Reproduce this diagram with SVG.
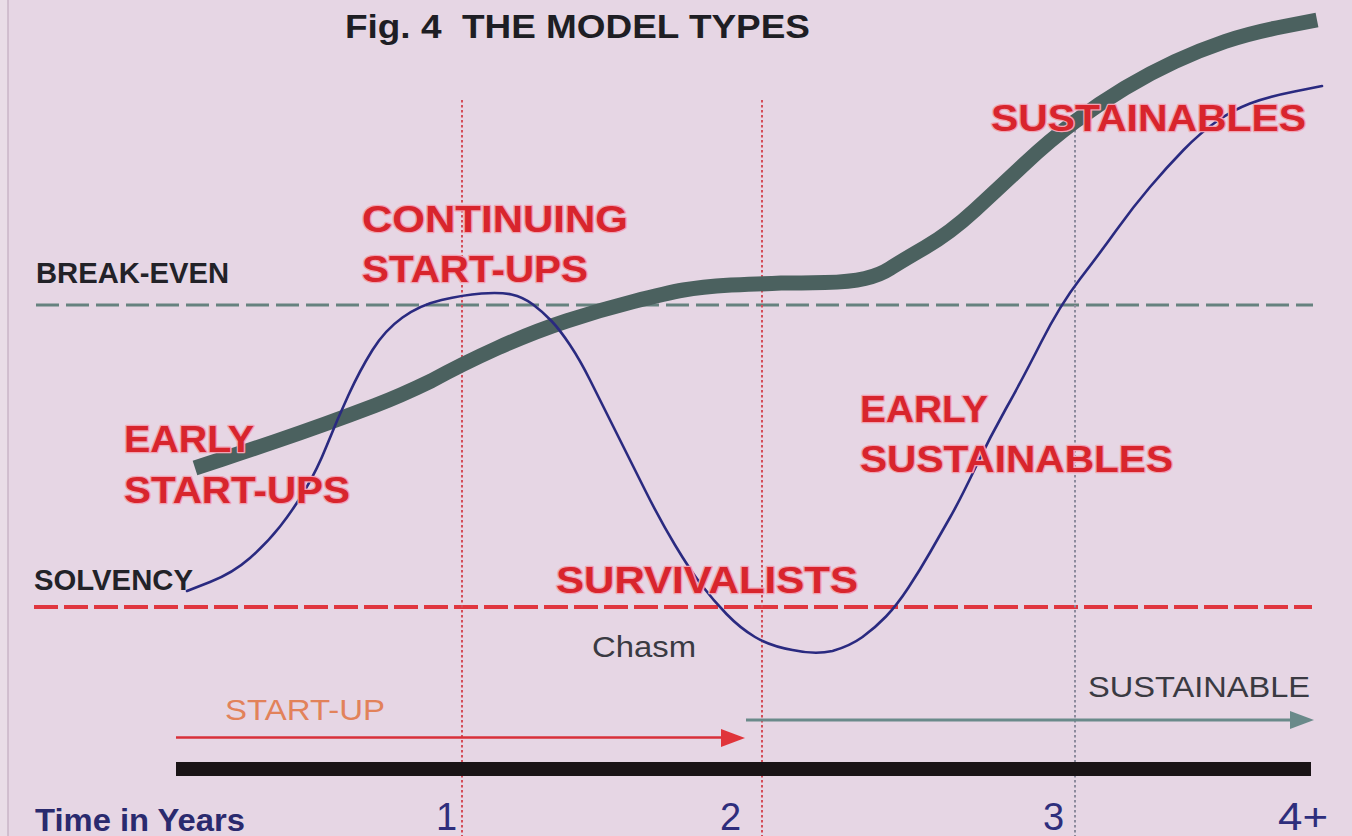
<svg xmlns="http://www.w3.org/2000/svg" width="1352" height="836" viewBox="0 0 1352 836">
  <defs>
    <style>
      .bg { fill: #e6d6e4; }
      .title { font-family: "Liberation Sans", Arial, sans-serif; font-weight: bold; font-size: 34px; fill: #1e1e24; white-space: pre; }
      .axis-label { font-family: "Liberation Sans", Arial, sans-serif; font-weight: bold; font-size: 29px; fill: #222228; }
      .model { font-family: "Liberation Sans", Arial, sans-serif; font-weight: bold; font-size: 37px; fill: #d8252d; stroke: #f0a3b4; stroke-width: 2.5px; paint-order: stroke; stroke-linejoin: round; }
      .plain { font-family: "Liberation Sans", Arial, sans-serif; font-size: 30px; fill: #3a3a42; }
      .phase-start { font-family: "Liberation Sans", Arial, sans-serif; font-size: 30px; fill: #e2825a; }
      .years { font-family: "Liberation Sans", Arial, sans-serif; font-size: 38px; fill: #2e2e7c; }
      .years-title { font-family: "Liberation Sans", Arial, sans-serif; font-weight: bold; font-size: 32px; fill: #2a2a6e; }
      .year-red { stroke: #d44c58; stroke-width: 2; stroke-dasharray: 2.5 2.5; fill: none; }
      .year-grey { stroke: #8c8a9c; stroke-width: 2; stroke-dasharray: 2.5 2.5; fill: none; }
      .break-even { stroke: #66827f; stroke-width: 3; stroke-dasharray: 23 7; fill: none; }
      .solvency { stroke: #e0363f; stroke-width: 4; stroke-dasharray: 24 6; fill: none; }
      .trend { stroke: #4b615f; stroke-width: 15; fill: none; stroke-linecap: butt; }
      .cash { stroke: #2a2a80; stroke-width: 2.6; fill: none; stroke-linecap: round; }
    </style>
  </defs>

  <!-- page -->
  <rect class="bg" x="0" y="0" width="1352" height="836"/>
  <rect x="0" y="0" width="8" height="836" fill="#e9dde7"/>
  <line x1="8" y1="0" x2="8" y2="836" stroke="#c9b5c7" stroke-width="1.5"/>

  <!-- title -->
  <text id="title" class="title" xml:space="preserve" x="345" y="38" textLength="465" lengthAdjust="spacingAndGlyphs">Fig. 4  THE MODEL TYPES</text>

  <!-- reference levels and year markers -->
  <g id="grid">
    <line class="break-even" x1="36" y1="305" x2="1313" y2="305"/>
    <line class="solvency" x1="34" y1="607" x2="1312" y2="607"/>
    <line class="year-red" x1="462" y1="100" x2="462" y2="836"/>
    <line class="year-red" x1="762" y1="100" x2="762" y2="836"/>
    <line class="year-grey" x1="1075" y1="130" x2="1075" y2="836"/>
  </g>

  <g id="level-labels">
    <text class="axis-label" x="36" y="283" textLength="193" lengthAdjust="spacingAndGlyphs">BREAK-EVEN</text>
    <text class="axis-label" x="34" y="590" textLength="159" lengthAdjust="spacingAndGlyphs">SOLVENCY</text>
  </g>

  <!-- curves -->
  <g id="connectors">
    <path id="trend-curve" class="trend" d="M195,468 L222.5,459 Q250,450 275,441.5 Q300,433 325,424 Q350,415 375,405.5 Q400,396 431,381 Q462,364 497.5,348 Q533,332 566.5,321 Q600,310 633.5,301.5 Q667,293 683.5,290 Q700,287 731,285 Q762,284 781,283 Q800,283 825,282.5 Q850,282 865,278.5 Q880,275 890,268.5 Q900,262 925,247.5 Q950,233 975,210 Q1000,187 1025,163.5 Q1050,140 1075,121.5 Q1100,103 1125,88 Q1150,73 1175,61.5 Q1200,50 1225,41.5 Q1250,33 1283.5,26.5 L1317,20"/>
    <path id="cash-curve" class="cash" d="M187,591 L210,582 Q233,573 250,558 Q267,543 280,526.5 Q293,510 305,490 Q317,470 327,445 Q337,420 348.5,395 Q360,370 372.5,350 Q385,330 402.5,317.5 Q420,305 441.5,300 Q463,295 481.5,293.5 Q500,292 511.5,294.5 Q523,297 533,304.5 Q543,312 551.5,321 Q560,330 570,345 Q580,360 590,380 Q600,400 615,430 Q630,460 645,490 Q660,520 675,545 Q690,570 701.5,585 Q713,600 726.5,614 Q740,628 755,637 Q770,646 792.5,650 Q815,655 832.5,651 Q850,646 862.5,637 Q875,628 886,616.5 Q897,605 908.5,587.5 Q920,570 930,552.5 Q940,535 950,517.5 Q960,500 975,468.5 Q990,437 1006,408.5 Q1022,380 1041,342.5 Q1060,305 1080,279 Q1100,253 1116.5,230 Q1133,207 1150,187 Q1167,167 1183.5,150 Q1200,133 1216.5,121.5 Q1233,110 1250,103.5 Q1267,97 1294.5,91.5 L1322,86"/>

    <!-- phase arrows -->
    <line x1="176" y1="737.5" x2="722" y2="737.5" stroke="#d8303a" stroke-width="2.5"/>
    <polygon points="721,729 745,738 721,747" fill="#e0343a"/>
    <line x1="746" y1="720" x2="1292" y2="720" stroke="#6a8a8a" stroke-width="3"/>
    <polygon points="1290,711 1314,720 1290,729" fill="#6a8a8a"/>
  </g>

  <!-- model type labels -->
  <g id="early-start-ups">
    <text class="model" x="124" y="452" textLength="130" lengthAdjust="spacingAndGlyphs">EARLY</text>
    <text class="model" x="124" y="503" textLength="226" lengthAdjust="spacingAndGlyphs">START-UPS</text>
  </g>
  <g id="continuing-start-ups">
    <text class="model" x="362" y="232" textLength="266" lengthAdjust="spacingAndGlyphs">CONTINUING</text>
    <text class="model" x="362" y="282" textLength="226" lengthAdjust="spacingAndGlyphs">START-UPS</text>
  </g>
  <g id="survivalists">
    <text class="model" x="556" y="593" textLength="302" lengthAdjust="spacingAndGlyphs">SURVIVALISTS</text>
  </g>
  <g id="early-sustainables">
    <text class="model" x="860" y="422" textLength="128" lengthAdjust="spacingAndGlyphs">EARLY</text>
    <text class="model" x="860" y="472" textLength="313" lengthAdjust="spacingAndGlyphs">SUSTAINABLES</text>
  </g>
  <g id="sustainables">
    <text class="model" x="991" y="131" textLength="315" lengthAdjust="spacingAndGlyphs">SUSTAINABLES</text>
  </g>

  <g id="chasm">
    <text class="plain" x="592" y="657" textLength="104" lengthAdjust="spacingAndGlyphs">Chasm</text>
  </g>

  <!-- phases -->
  <g id="phase-start-up">
    <text class="phase-start" x="225" y="720" textLength="160" lengthAdjust="spacingAndGlyphs">START-UP</text>
  </g>
  <g id="phase-sustainable">
    <text class="plain" x="1088" y="697" textLength="222" lengthAdjust="spacingAndGlyphs">SUSTAINABLE</text>
  </g>

  <!-- time axis -->
  <g id="time-axis">
    <rect x="176" y="762" width="1135" height="14" fill="#1a1416"/>
    <text class="years-title" x="35" y="831" textLength="210" lengthAdjust="spacingAndGlyphs">Time in Years</text>
    <text class="years" x="436" y="830">1</text>
    <text class="years" x="720" y="830">2</text>
    <text class="years" x="1043" y="830">3</text>
    <text class="years" x="1278" y="830" textLength="50" lengthAdjust="spacingAndGlyphs">4+</text>
  </g>
</svg>
